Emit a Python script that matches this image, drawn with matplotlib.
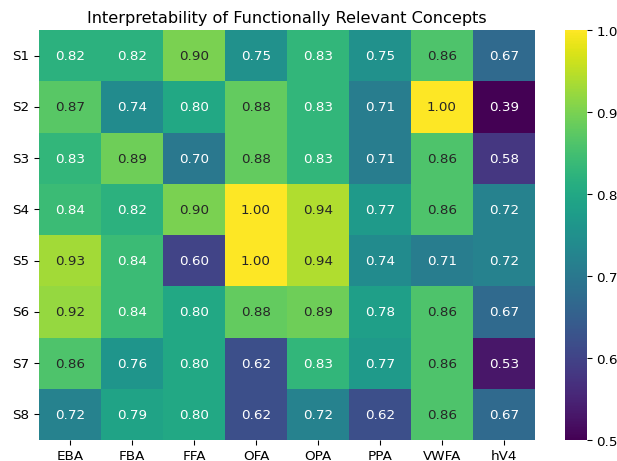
import numpy as np
import matplotlib
matplotlib.use("Agg")
import matplotlib.pyplot as plt
import seaborn as sns

subjects = ["S1", "S2", "S3", "S4", "S5", "S6", "S7", "S8"]
regions = ["EBA", "FBA", "FFA", "OFA", "OPA", "PPA", "VWFA", "hV4"]

s1 = [0.82, 0.82, 0.90, 0.75, 0.83, 0.75, 0.86, 0.67]
s2 = [0.87, 0.74, 0.80, 0.88, 0.83, 0.71, 1.00, 0.39]
s3 = [0.83, 0.89, 0.70, 0.88, 0.83, 0.71, 0.86, 0.58]
s4 = [0.84, 0.82, 0.90, 1.00, 0.94, 0.77, 0.86, 0.72]
s5 = [0.93, 0.84, 0.60, 1.00, 0.94, 0.74, 0.71, 0.72]
s6 = [0.92, 0.84, 0.80, 0.88, 0.89, 0.78, 0.86, 0.67]
s7 = [0.86, 0.76, 0.80, 0.62, 0.83, 0.77, 0.86, 0.53]
s8 = [0.72, 0.79, 0.80, 0.62, 0.72, 0.62, 0.86, 0.67]

scores = np.array([s1, s2, s3, s4, s5, s6, s7, s8])

# the reference looks like a tight-bbox save shrunk a little, so render at ~97 dpi
DPI = 96.8
fig = plt.figure(figsize=(617 / DPI, 462 / DPI), dpi=DPI)
ax = fig.add_axes([39 / 617, 21 / 462, 496 / 617, 410 / 462])
cax = fig.add_axes([565 / 617, 21 / 462, 22 / 617, 410 / 462])
sns.heatmap(scores, annot=True, fmt=".2f", cmap="viridis", vmin=0.5, vmax=1.0,
            xticklabels=regions, yticklabels=subjects, ax=ax, cbar_ax=cax)
ax.set_yticklabels(subjects, rotation=0)
ax.set_title("Interpretability of Functionally Relevant Concepts")
fig.savefig("out.png", dpi=DPI)
